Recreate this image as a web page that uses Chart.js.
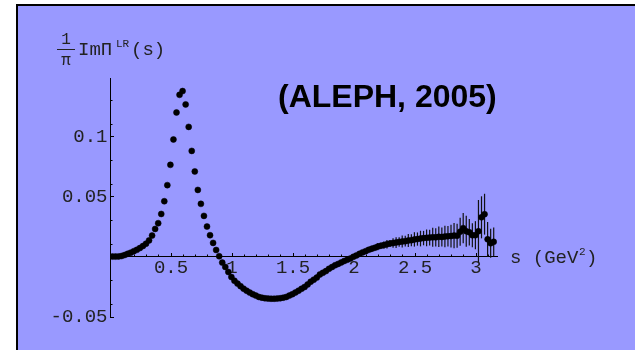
<!DOCTYPE html>
<html>
<head>
<meta charset="utf-8">
<script src="https://cdn.jsdelivr.net/npm/chart.js@4/dist/chart.umd.min.js"></script>
<style>
  html, body { margin: 0; padding: 0; background: #fff; }
  #wrap { width: 635px; height: 350px; position: relative; }
</style>
</head>
<body>
<div id="wrap"><canvas id="c" width="635" height="350"></canvas></div>
<script>
// s (GeV^2) bin centres
const S = [
  0.02, 0.045, 0.07, 0.095, 0.12, 0.145, 0.17, 0.195, 0.22, 0.245,
  0.27, 0.295, 0.32, 0.345, 0.37, 0.395, 0.42, 0.445, 0.47, 0.495,
  0.52, 0.545, 0.57, 0.595, 0.62, 0.645, 0.67, 0.695, 0.72, 0.745,
  0.77, 0.795, 0.82, 0.845, 0.87, 0.895, 0.92, 0.945, 0.97, 0.995,
  1.02, 1.045, 1.07, 1.095, 1.12, 1.145, 1.17, 1.195, 1.22, 1.245,
  1.27, 1.295, 1.32, 1.345, 1.37, 1.395, 1.42, 1.445, 1.47, 1.495,
  1.52, 1.545, 1.57, 1.595, 1.62, 1.645, 1.67, 1.695, 1.72, 1.745,
  1.77, 1.795, 1.82, 1.845, 1.87, 1.895, 1.92, 1.945, 1.97, 1.995,
  2.02, 2.045, 2.07, 2.095, 2.12, 2.145, 2.17, 2.195, 2.22, 2.245,
  2.27, 2.295, 2.32, 2.345, 2.37, 2.395, 2.42, 2.445, 2.47, 2.495,
  2.52, 2.545, 2.57, 2.595, 2.62, 2.645, 2.67, 2.695, 2.72, 2.745,
  2.77, 2.795, 2.82, 2.845, 2.87, 2.895, 2.92, 2.945, 2.97, 2.995,
  3.02, 3.045, 3.07, 3.095, 3.12, 3.145
];

// (1/pi) Im Pi^LR(s)
const V = [
  0.0003, 0.0003, 0.0004, 0.0008, 0.0016, 0.0026, 0.0036, 0.0048, 0.0059, 0.0074,
  0.0091, 0.011, 0.0138, 0.0178, 0.0233, 0.0281, 0.0358, 0.0464, 0.0598, 0.0767,
  0.0978, 0.1203, 0.135, 0.1381, 0.127, 0.1083, 0.0883, 0.0712, 0.0558, 0.0442,
  0.0342, 0.0253, 0.0181, 0.0117, 0.0058, 0.0006, -0.0047, -0.0083, -0.0125, -0.0167,
  -0.0198, -0.0222, -0.0243, -0.0264, -0.0281, -0.0297, -0.031, -0.0322, -0.0333, -0.0339,
  -0.0344, -0.0347, -0.0348, -0.0348, -0.0347, -0.0344, -0.0339, -0.0333, -0.0322, -0.031,
  -0.0296, -0.0281, -0.0265, -0.025, -0.0229, -0.0206, -0.0189, -0.0172, -0.0146, -0.0132,
  -0.0118, -0.0099, -0.0084, -0.0069, -0.0058, -0.0046, -0.0034, -0.0023, -0.0013, 0.0001,
  0.0013, 0.0026, 0.0038, 0.0048, 0.0059, 0.0068, 0.0076, 0.0086, 0.0093, 0.0099,
  0.0106, 0.0112, 0.0116, 0.012, 0.0125, 0.0128, 0.0131, 0.0137, 0.0139, 0.0146,
  0.0149, 0.0153, 0.0157, 0.0159, 0.0161, 0.0164, 0.0163, 0.0168, 0.0166, 0.017,
  0.0173, 0.0174, 0.0178, 0.0177, 0.021, 0.024, 0.0214, 0.0206, 0.0181, 0.0181,
  0.0214, 0.033, 0.0356, 0.0147, 0.0114, 0.0126
];

// error bars (half widths)
const ERR = [
  0, 0, 0, 0, 0, 0, 0, 0, 0, 0,
  0, 0, 0, 0, 0, 0, 0, 0, 0, 0,
  0, 0, 0, 0, 0, 0, 0, 0, 0, 0,
  0, 0, 0, 0, 0, 0, 0, 0, 0, 0,
  0, 0, 0, 0, 0, 0, 0, 0, 0, 0,
  0, 0, 0, 0, 0, 0, 0, 0, 0, 0,
  0, 0, 0, 0, 0, 0, 0, 0, 0, 0,
  0, 0, 0, 0, 0, 0, 0, 0, 0, 0,
  0, 0, 0, 0, 0.002, 0.0025, 0.002, 0.003, 0.0025, 0.003,
  0.0035, 0.003, 0.004, 0.0045, 0.004, 0.005, 0.0045, 0.0055, 0.005, 0.006,
  0.0055, 0.0065, 0.006, 0.007, 0.0065, 0.008, 0.0075, 0.0085, 0.008, 0.009,
  0.0085, 0.0095, 0.0105, 0.010, 0.0117, 0.0125, 0.013, 0.011, 0.010, 0.0117,
  0.026, 0.0175, 0.017, 0.0145, 0.012, 0.012
];

const X_TICKS = [0.5, 1, 1.5, 2, 2.5, 3];
const X_LABELS = ['0.5', '1', '1.5', '2', '2.5', '3'];
const X_MINOR = [0.1, 0.2, 0.3, 0.4, 0.6, 0.7, 0.8, 0.9, 1.1, 1.2, 1.3, 1.4, 1.6, 1.7, 1.8, 1.9,
  2.1, 2.2, 2.3, 2.4, 2.6, 2.7, 2.8, 2.9, 3.1];
const Y_TICKS = [-0.05, 0.05, 0.1];
const Y_LABELS = ['-0.05', '0.05', '0.1'];
const Y_MINOR = [-0.04, -0.03, -0.02, -0.01, 0.01, 0.02, 0.03, 0.04, 0.06, 0.07, 0.08, 0.09,
  0.11, 0.12, 0.13, 0.14];

const MONO = '"Liberation Mono", "DejaVu Sans Mono", monospace';
const BG = '#9999ff';
const INK = '#222';

const frame = {
  id: 'frame',
  beforeDraw(chart) {
    const c = chart.ctx;
    c.save();
    c.fillStyle = '#fff';
    c.fillRect(0, 0, chart.width, chart.height);
    c.fillStyle = '#000';
    c.fillRect(16, 4, chart.width - 16, chart.height - 4);
    c.fillStyle = BG;
    c.fillRect(18, 6, chart.width - 18, chart.height - 6);
    c.restore();
  }
};

const errorBars = {
  id: 'errorBars',
  beforeDatasetsDraw(chart) {
    const { ctx: c, scales: { x, y } } = chart;
    c.save();
    c.strokeStyle = '#111';
    c.lineWidth = 1.2;
    S.forEach((s, i) => {
      if (!ERR[i]) return;
      const px = x.getPixelForValue(s);
      c.beginPath();
      c.moveTo(px, y.getPixelForValue(V[i] - ERR[i]));
      c.lineTo(px, y.getPixelForValue(V[i] + ERR[i]));
      c.stroke();
    });
    c.restore();
  }
};

const labels = {
  id: 'labels',
  afterDraw(chart) {
    const { ctx: c, scales: { x, y } } = chart;
    const y0 = y.getPixelForValue(0);
    c.save();
    c.fillStyle = '#000';
    c.textBaseline = 'alphabetic';
    c.textAlign = 'left';

    // title
    c.font = 'bold 32px "Liberation Sans", Arial, sans-serif';
    c.fillText('(ALEPH, 2005)', 278, 107);

    // x axis label: s (GeV^2)
    c.fillStyle = INK;
    let tx = x.right + 13;
    c.font = '19px ' + MONO;
    c.fillText('s (GeV', tx, y0 + 6);
    tx += c.measureText('s (GeV').width + 0.5;
    c.font = '11px ' + MONO;
    c.fillText('2', tx, y0 - 2);
    tx += c.measureText('2').width + 0.5;
    c.font = '19px ' + MONO;
    c.fillText(')', tx, y0 + 6);

    // y axis label: (1/pi) Im Pi^LR (s)
    c.textAlign = 'center';
    c.font = '16px ' + MONO;
    c.fillText('1', 66, 43.5);
    c.fillText('\u03c0', 66, 65);
    c.fillRect(57, 49, 18, 1);
    c.textAlign = 'left';
    c.font = '19px ' + MONO;
    c.fillText('Im\u03a0', 78, 54.5);
    c.font = '11px ' + MONO;
    c.fillText('LR', 116, 46.5);
    c.font = '19px ' + MONO;
    c.fillText('(s)', 131, 54.5);
    c.restore();
  }
};

const tickFont = { family: MONO, size: 19 };

new Chart(document.getElementById('c'), {
  type: 'scatter',
  data: {
    datasets: [{
      data: S.map((s, i) => ({ x: s, y: V[i] })),
      pointRadius: 3,
      pointBackgroundColor: '#000',
      pointBorderColor: '#000',
      pointBorderWidth: 0.5,
      showLine: false
    }]
  },
  options: {
    responsive: false,
    animation: false,
    devicePixelRatio: 1,
    layout: { padding: { left: 0, right: 138, top: 78, bottom: 33 } },
    plugins: { legend: { display: false }, tooltip: { enabled: false } },
    scales: {
      x: {
        type: 'linear', min: 0, max: 3.172, position: { y: 0 },
        afterFit: (s) => { s.height = 0; },
        afterBuildTicks: (s) => { s.ticks = X_TICKS.map((v) => ({ value: v })); },
        grid: { drawOnChartArea: false, tickLength: -4, color: '#000', tickWidth: 1 },
        border: { color: '#000', width: 1 },
        ticks: {
          font: tickFont, color: INK, padding: 3.6, maxRotation: 0, autoSkip: false,
          callback: (v, i) => X_LABELS[i]
        }
      },
      xMinor: {
        type: 'linear', min: 0, max: 3.172, position: { y: 0 },
        afterFit: (s) => { s.height = 0; },
        afterBuildTicks: (s) => { s.ticks = X_MINOR.map((v) => ({ value: v })); },
        grid: { drawOnChartArea: false, tickLength: -2.5, color: '#000', tickWidth: 1 },
        border: { display: false },
        ticks: { callback: () => '' }
      },
      y: {
        type: 'linear', min: -0.05, max: 0.149, position: 'left',
        afterFit: (s) => { s.width = 110; },
        afterBuildTicks: (s) => { s.ticks = Y_TICKS.map((v) => ({ value: v })); },
        grid: { drawOnChartArea: false, tickLength: -4, color: '#000', tickWidth: 1 },
        border: { color: '#000', width: 1 },
        ticks: {
          font: tickFont, color: INK, padding: 6.5, autoSkip: false,
          callback: (v, i) => Y_LABELS[i]
        }
      },
      yMinor: {
        type: 'linear', min: -0.05, max: 0.149, position: { x: 0 },
        afterFit: (s) => { s.width = 0; },
        afterBuildTicks: (s) => { s.ticks = Y_MINOR.map((v) => ({ value: v })); },
        grid: { drawOnChartArea: false, tickLength: -2.5, color: '#000', tickWidth: 1 },
        border: { display: false },
        ticks: { callback: () => '' }
      }
    }
  },
  plugins: [frame, errorBars, labels]
});
</script>
</body>
</html>
